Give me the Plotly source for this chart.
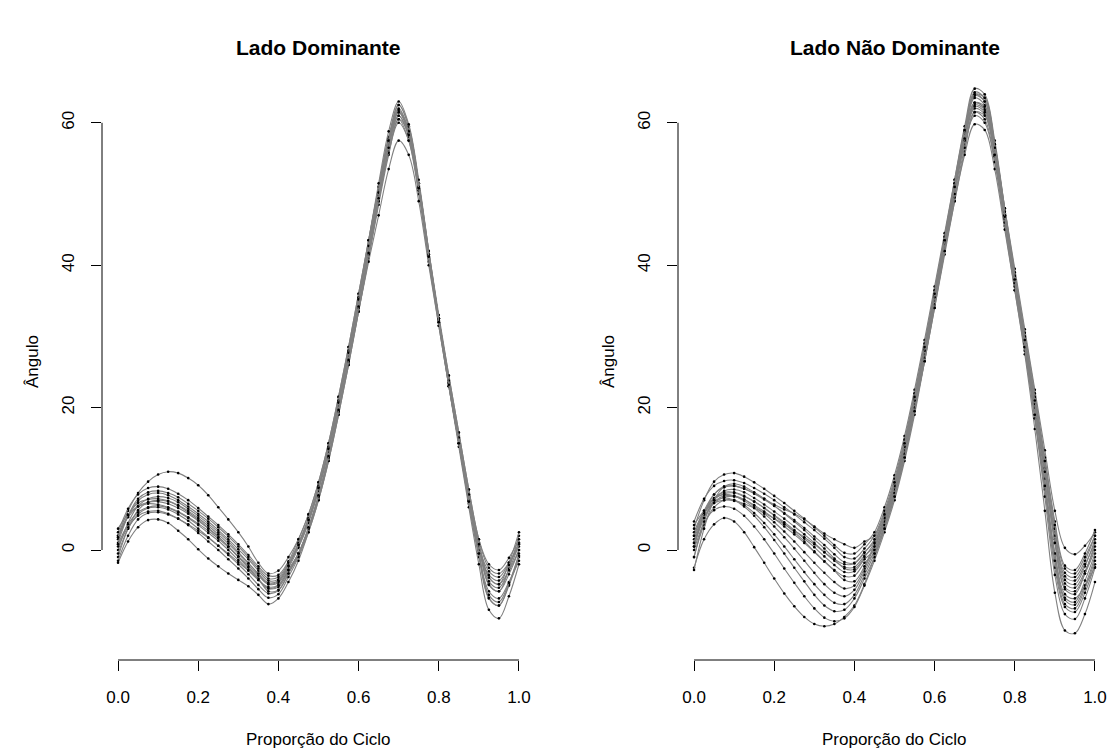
import plotly.graph_objects as go

# ---------------- data ----------------
X_PROP = [0.0, 0.025, 0.05, 0.075, 0.1, 0.125, 0.15, 0.175, 0.2, 0.225,
          0.25, 0.275, 0.3, 0.325, 0.35, 0.375, 0.4, 0.425, 0.45, 0.475,
          0.5, 0.525, 0.55, 0.575, 0.6, 0.625, 0.65, 0.675, 0.7, 0.725,
          0.75, 0.775, 0.8, 0.825, 0.85, 0.875, 0.9, 0.925, 0.95, 0.975, 1.0]

X_TICKS = [0.0, 0.2, 0.4, 0.6, 0.8, 1.0]
X_TICK_LABELS = ["0.0", "0.2", "0.4", "0.6", "0.8", "1.0"]
Y_TICKS = [0, 20, 40, 60]
Y_TICK_LABELS = ["0", "20", "40", "60"]

TITLES = ["Lado Dominante", "Lado Não Dominante"]
X_LABEL = "Proporção do Ciclo"
Y_LABEL = "Ângulo"

# Lado Dominante curves
dom_01 = [2.0, 5.5, 8.0, 9.6, 10.6, 11.0, 10.8, 10.1, 9.1, 7.7, 6.0, 4.3, 2.5, 0.5, -1.8, -3.3, -2.9, -1.0,
          1.5, 5.0, 9.5, 15.0, 21.5, 28.5, 36.0, 43.5, 51.0, 57.8, 61.5, 58.5, 51.0, 41.5, 32.5, 24.0, 16.0, 8.0, 1.0, -3.8, -4.8, -2.9, 0.0]
dom_02 = [-1.8, 1.2, 3.2, 4.2, 4.3, 3.8, 2.7, 1.5, 0.1, -1.2, -2.3, -3.3, -4.2, -5.1, -6.3, -7.6, -6.8, -4.5,
          -1.5, 2.5, 7.0, 12.5, 19.0, 26.0, 33.5, 41.0, 49.0, 56.5, 61.5, 59.0, 51.5, 42.0, 32.5, 23.5, 15.0, 6.5, -1.0, -6.8, -7.8, -5.0, -1.0]
dom_03 = [2.5, 5.8, 7.8, 8.7, 8.9, 8.6, 7.9, 7.0, 5.9, 4.7, 3.5, 2.2, 0.8, -0.7, -2.3, -3.6, -3.5, -1.6,
          1.5, 5.0, 9.5, 15.0, 21.5, 28.5, 36.0, 43.5, 51.0, 58.0, 62.5, 59.5, 51.5, 41.5, 32.0, 23.5, 15.5, 7.5, 0.5, -3.0, -3.8, -1.8, 1.0]
dom_04 = [1.5, 4.8, 6.9, 7.8, 8.0, 7.7, 7.0, 6.1, 5.1, 4.0, 2.8, 1.5, 0.1, -1.3, -2.9, -4.3, -4.1, -2.0,
          0.5, 4.0, 8.5, 14.0, 20.5, 27.5, 35.0, 42.5, 50.0, 57.0, 61.0, 58.0, 50.5, 41.0, 32.0, 23.5, 15.5, 7.5, 0.5, -4.8, -5.8, -2.6, 2.0]
dom_05 = [0.0, 3.8, 6.2, 7.2, 7.5, 7.3, 6.7, 5.8, 4.8, 3.7, 2.5, 1.2, -0.3, -1.8, -3.4, -4.8, -4.6, -2.5,
          0.3, 3.8, 8.3, 13.8, 20.3, 27.3, 35.0, 42.5, 50.5, 57.8, 62.0, 59.0, 51.5, 42.0, 33.0, 24.5, 16.5, 8.5, 1.5, -2.5, -3.3, -1.8, 0.5]
dom_06 = [-1.0, 3.0, 5.6, 6.7, 7.0, 6.8, 6.2, 5.3, 4.3, 3.1, 1.9, 0.5, -1.0, -2.5, -4.1, -5.4, -5.2, -3.0,
          -0.5, 3.0, 7.5, 13.0, 19.5, 26.5, 34.0, 41.5, 49.0, 56.0, 60.5, 57.5, 50.0, 40.5, 31.5, 23.0, 15.0, 7.0, -0.5, -5.8, -6.8, -4.5, -1.5]
dom_07 = [3.0, 5.0, 6.1, 6.5, 6.4, 6.0, 5.4, 4.6, 3.7, 2.7, 1.6, 0.4, -0.9, -2.2, -3.6, -4.8, -4.4, -2.3,
          0.8, 4.3, 8.8, 14.3, 20.8, 27.8, 35.3, 42.8, 50.3, 57.3, 61.5, 58.5, 51.0, 41.5, 32.5, 24.0, 16.0, 8.0, 1.0, -3.9, -4.8, -1.8, 2.5]
dom_08 = [-0.5, 3.0, 5.0, 5.9, 6.0, 5.7, 5.0, 4.1, 3.0, 1.8, 0.6, -0.7, -2.0, -3.4, -4.9, -6.1, -5.7, -3.3,
          -0.8, 2.8, 7.3, 12.8, 19.3, 26.3, 34.0, 41.8, 49.8, 57.5, 62.5, 59.5, 51.5, 41.5, 32.0, 23.0, 14.5, 6.0, -2.0, -8.4, -9.6, -6.5, -2.0]
dom_09 = [0.5, 3.2, 4.8, 5.4, 5.5, 5.1, 4.4, 3.5, 2.4, 1.2, 0.0, -1.3, -2.6, -4.0, -5.5, -6.7, -6.2, -3.8,
          -1.0, 2.5, 7.0, 12.5, 19.0, 26.0, 33.5, 41.0, 48.5, 55.5, 60.5, 58.5, 51.0, 41.5, 32.5, 24.0, 16.0, 7.8, 0.5, -4.9, -5.8, -3.4, 0.0]
dom_10 = [-1.5, 2.0, 4.3, 5.2, 5.3, 5.0, 4.4, 3.6, 2.7, 1.7, 0.6, -0.5, -1.7, -2.9, -4.2, -5.4, -5.0, -2.8,
          -0.5, 3.0, 7.5, 13.0, 19.5, 26.5, 33.5, 40.5, 47.0, 53.5, 57.5, 55.5, 49.0, 40.0, 31.5, 23.0, 15.0, 7.0, 0.0, -3.5, -4.3, -2.1, 1.0]
dom_11 = [1.0, 4.8, 7.2, 8.1, 8.3, 8.0, 7.4, 6.5, 5.5, 4.4, 3.2, 1.9, 0.5, -1.0, -2.6, -4.0, -3.8, -1.8,
          1.0, 4.5, 9.0, 14.5, 21.0, 28.0, 35.5, 43.5, 51.5, 58.8, 63.0, 59.8, 52.0, 42.0, 32.5, 23.5, 15.0, 6.8, -0.5, -6.7, -7.8, -4.8, -0.5]
dom_12 = [2.0, 4.6, 6.1, 6.7, 6.8, 6.5, 5.9, 5.1, 4.1, 3.0, 1.8, 0.5, -0.9, -2.4, -4.0, -5.8, -5.6, -3.3,
          -0.5, 3.0, 7.5, 13.0, 19.5, 26.5, 34.0, 41.5, 49.0, 55.8, 60.0, 57.5, 50.5, 41.5, 32.5, 24.5, 16.5, 8.5, 1.5, -2.0, -2.8, -1.1, 1.5]
dom_13 = [1.8, 4.9, 6.6, 7.1, 7.2, 6.9, 6.3, 5.5, 4.5, 3.4, 2.2, 0.9, -0.5, -1.9, -3.3, -4.6, -4.3, -2.2,
          0.7, 4.2, 8.7, 14.2, 20.7, 27.7, 35.2, 42.7, 50.2, 57.5, 61.8, 58.8, 51.0, 41.3, 32.3, 23.8, 15.8, 7.8, 0.8, -4.4, -5.3, -2.8, 0.8]
dom_14 = [0.8, 3.6, 5.3, 6.0, 6.2, 5.9, 5.3, 4.5, 3.5, 2.4, 1.3, 0.0, -1.4, -2.8, -4.2, -5.2, -4.9, -2.8,
          -0.5, 3.2, 7.7, 13.2, 19.7, 26.7, 34.2, 41.7, 49.4, 56.5, 61.0, 58.3, 50.8, 41.2, 32.0, 23.2, 15.0, 6.8, -0.5, -6.3, -7.3, -4.6, -0.8]

# Lado Não Dominante curves
nd_01 = [2.0, 5.5, 7.8, 8.8, 9.0, 8.6, 8.0, 7.2, 6.4, 5.7, 5.1, 4.3, 3.3, 2.3, 1.5, 0.8, 0.3, 1.2,
         2.0, 5.2, 9.5, 15.0, 21.5, 28.5, 36.0, 43.5, 51.0, 58.0, 62.8, 62.0, 56.5, 48.0, 39.5, 31.0, 22.5, 14.0, 5.5, 0.3, -0.6, 0.6, 2.5]
nd_02 = [-2.5, 1.5, 3.6, 4.5, 4.0, 2.5, 0.4, -1.8, -4.0, -6.1, -7.9, -9.4, -10.4, -10.7, -10.4, -9.4, -7.8, -4.8,
         -1.0, 3.0, 7.5, 13.0, 19.5, 26.5, 34.0, 41.5, 49.0, 56.0, 61.5, 60.5, 54.5, 45.5, 36.5, 27.5, 17.0, 5.5, -6.0, -11.3, -11.7, -9.0, -4.5]
nd_03 = [0.0, 3.8, 5.6, 6.1, 5.8, 4.8, 3.3, 1.5, -0.5, -2.6, -4.6, -6.5, -8.2, -9.5, -10.0, -9.6, -8.0, -5.0,
         -1.5, 2.5, 7.0, 12.5, 19.0, 26.5, 34.5, 42.5, 50.5, 58.5, 64.0, 63.5, 57.0, 47.5, 38.0, 29.0, 19.0, 9.0, -1.5, -7.0, -7.7, -5.0, -1.0]
nd_04 = [1.5, 5.0, 6.8, 7.3, 7.0, 6.1, 4.8, 3.2, 1.4, -0.5, -2.5, -4.4, -6.3, -7.8, -8.6, -8.4, -6.8, -4.0,
         -1.0, 3.0, 7.5, 13.0, 20.0, 27.0, 35.0, 42.5, 50.5, 57.8, 62.8, 62.0, 56.0, 47.0, 38.0, 29.5, 20.5, 11.0, 1.0, -5.5, -6.2, -3.3, 1.0]
nd_05 = [-1.0, 3.5, 6.0, 7.0, 7.0, 6.3, 5.2, 3.8, 2.2, 0.5, -1.3, -3.1, -4.8, -6.3, -7.4, -7.6, -6.3, -3.5,
         -0.5, 3.5, 8.0, 13.5, 20.0, 27.0, 34.5, 42.0, 49.0, 55.5, 59.8, 59.0, 53.5, 45.0, 36.5, 28.0, 18.5, 9.0, -0.5, -6.2, -6.8, -5.0, -2.4]
nd_06 = [2.5, 5.5, 7.2, 7.8, 7.6, 6.9, 5.9, 4.7, 3.3, 1.8, 0.2, -1.5, -3.2, -4.8, -6.0, -6.5, -5.6, -3.0,
         0.0, 4.0, 8.5, 14.0, 20.5, 28.0, 36.0, 44.0, 52.0, 59.5, 64.8, 64.0, 57.5, 48.0, 38.5, 29.5, 20.5, 11.5, 2.5, -3.2, -3.8, -1.5, 2.0]
nd_07 = [0.5, 4.5, 6.8, 7.6, 7.6, 7.1, 6.2, 5.1, 3.9, 2.6, 1.2, -0.3, -1.8, -3.2, -4.5, -5.4, -5.0, -2.6,
         0.5, 4.0, 8.5, 14.0, 20.5, 27.5, 35.0, 42.5, 50.5, 57.5, 62.5, 61.8, 56.0, 47.0, 38.0, 29.0, 19.0, 8.5, -2.5, -8.0, -8.7, -6.0, -2.0]
nd_08 = [1.0, 5.0, 7.3, 8.1, 8.1, 7.6, 6.8, 5.9, 4.8, 3.7, 2.5, 1.2, -0.2, -1.6, -2.9, -4.2, -4.4, -2.3,
         0.8, 4.3, 8.8, 14.3, 21.0, 28.0, 35.5, 43.0, 50.5, 57.0, 61.0, 60.0, 54.5, 46.0, 37.0, 28.5, 20.0, 11.0, 1.5, -4.7, -5.3, -3.0, 0.5]
nd_09 = [3.0, 7.0, 9.6, 10.6, 10.8, 10.3, 9.5, 8.6, 7.6, 6.6, 5.5, 4.4, 3.2, 2.0, 0.7, -0.4, -0.5, 0.8,
         2.5, 6.0, 10.5, 16.0, 22.5, 29.5, 37.0, 44.5, 52.0, 59.0, 63.8, 63.0, 57.0, 48.0, 39.0, 30.5, 22.0, 13.0, 4.0, -2.2, -2.8, -0.5, 2.8]
nd_10 = [4.0, 7.2, 9.0, 9.7, 9.8, 9.4, 8.7, 7.9, 7.0, 6.0, 5.0, 3.9, 2.8, 1.6, 0.3, -1.0, -1.2, 0.2,
         2.0, 5.5, 10.0, 15.5, 22.0, 29.0, 36.5, 44.0, 51.5, 58.5, 63.5, 62.5, 56.0, 47.0, 38.0, 29.0, 20.0, 10.0, -0.5, -6.7, -7.3, -4.3, -0.5]
nd_11 = [0.5, 5.0, 7.8, 8.9, 9.0, 8.6, 7.9, 7.1, 6.2, 5.2, 4.2, 3.1, 1.9, 0.7, -0.6, -1.7, -1.8, -0.3,
         1.2, 4.7, 9.2, 14.7, 21.2, 28.2, 35.7, 43.2, 50.7, 57.6, 62.0, 61.2, 55.3, 46.5, 37.5, 29.0, 20.5, 11.5, 2.0, -4.2, -4.8, -2.3, 1.5]
nd_12 = [-1.0, 4.0, 7.0, 8.3, 8.5, 8.1, 7.3, 6.4, 5.4, 4.4, 3.3, 2.2, 1.0, -0.3, -1.5, -2.4, -2.4, -0.8,
         0.5, 4.0, 8.5, 14.0, 20.5, 27.5, 35.0, 43.0, 51.0, 58.8, 64.3, 63.5, 57.0, 47.5, 38.0, 28.5, 18.5, 7.5, -3.5, -9.0, -9.7, -6.8, -2.5]
nd_13 = [2.0, 5.2, 7.2, 7.9, 8.0, 7.5, 6.8, 5.9, 4.9, 3.9, 2.8, 1.6, 0.4, -0.9, -2.1, -3.1, -3.0, -1.3,
         0.0, 3.5, 8.0, 13.5, 20.0, 27.0, 34.5, 42.0, 49.5, 56.5, 61.5, 61.0, 55.5, 47.0, 38.5, 30.0, 21.5, 12.5, 3.0, -3.7, -4.3, -2.0, 1.0]
nd_14 = [1.0, 4.5, 6.6, 7.4, 7.5, 7.1, 6.3, 5.4, 4.4, 3.3, 2.2, 1.0, -0.3, -1.6, -2.8, -3.7, -3.6, -1.8,
         -0.5, 3.0, 7.5, 13.0, 19.5, 26.5, 34.0, 42.0, 50.0, 57.5, 62.8, 62.3, 56.5, 47.5, 38.5, 29.5, 20.5, 11.0, 1.0, -5.2, -5.8, -3.3, 0.0]
nd_15 = [-2.8, 3.0, 7.0, 8.9, 9.3, 8.9, 8.1, 7.2, 6.2, 5.1, 4.0, 2.8, 1.5, 0.2, -1.2, -2.6, -2.7, -1.0,
         1.0, 4.5, 9.0, 14.5, 21.0, 28.0, 35.5, 43.5, 51.5, 59.0, 64.0, 63.0, 56.5, 47.0, 37.5, 28.5, 19.0, 9.0, -1.5, -7.6, -8.2, -5.4, -1.5]
nd_16 = [3.5, 5.5, 6.6, 7.0, 6.9, 6.5, 5.9, 5.2, 4.4, 3.6, 2.7, 1.8, 0.8, -0.3, -1.3, -2.0, -1.9, -0.4,
         1.5, 5.0, 9.5, 15.0, 21.5, 28.5, 36.0, 43.5, 51.0, 57.8, 62.3, 61.5, 55.5, 46.8, 38.0, 29.5, 21.0, 12.5, 3.5, -2.6, -3.3, -1.0, 2.0]

DOMINANTE = [dom_01, dom_02, dom_03, dom_04, dom_05, dom_06, dom_07,
             dom_08, dom_09, dom_10, dom_11, dom_12, dom_13, dom_14]
NAO_DOMINANTE = [nd_01, nd_02, nd_03, nd_04, nd_05, nd_06, nd_07, nd_08,
                 nd_09, nd_10, nd_11, nd_12, nd_13, nd_14, nd_15, nd_16]

# ---------------- figure ----------------
# the page body has an 8px margin, so the figure is 8px smaller and every
# pixel position below is given relative to the figure (page px - 8)
OFF = 8
W, H = 1116 - OFF, 756 - OFF
FONT = "Liberation Sans, Arial, Helvetica, sans-serif"
LINE_COLOR = "#808080"

fig = go.Figure()

for curves, xa, ya in [(DOMINANTE, "x", "y"), (NAO_DOMINANTE, "x2", "y2")]:
    for c in curves:
        fig.add_trace(go.Scatter(
            x=X_PROP, y=c, xaxis=xa, yaxis=ya, mode="lines+markers",
            line=dict(color=LINE_COLOR, width=1.1, shape="spline", smoothing=1.0),
            marker=dict(color="black", size=2.6),
            showlegend=False, hoverinfo="skip"))

# pixel geometry (page coordinates) of the two plot regions
px_left = [(102 - OFF, 535 - OFF), (678 - OFF, 1111 - OFF)]
py_top, py_bottom = 64 - OFF, 660 - OFF
ydom = [(H - py_bottom) / H, (H - py_top) / H]
XR = [-0.04, 1.04]
YR = [-15.45, 68.26]

tickfont = dict(family=FONT, size=17, color="black")
common_x = dict(range=XR, tickmode="array", tickvals=X_TICKS, ticktext=X_TICK_LABELS,
                ticks="outside", ticklen=10, tickwidth=1, tickcolor="black",
                showline=False, showgrid=False, zeroline=False, tickfont=tickfont,
                ticklabelstandoff=12, fixedrange=True)
common_y = dict(range=YR, domain=ydom, tickmode="array", tickvals=Y_TICKS, ticktext=Y_TICK_LABELS,
                ticks="outside", ticklen=10, tickwidth=1, tickcolor="black",
                showline=False, showgrid=False, zeroline=False, tickfont=tickfont,
                tickangle=-90, ticklabelstandoff=10, fixedrange=True)

fig.update_layout(
    width=W, height=H, margin=dict(l=0, r=0, t=0, b=0),
    paper_bgcolor="white", plot_bgcolor="white",
    xaxis=dict(domain=[px_left[0][0] / W, px_left[0][1] / W], anchor="y", **common_x),
    yaxis=dict(anchor="x", **common_y),
    xaxis2=dict(domain=[px_left[1][0] / W, px_left[1][1] / W], anchor="y2", **common_x),
    yaxis2=dict(anchor="x2", **common_y),
)

shapes = []
annotations = []
for i, (xa, ya) in enumerate([("x", "y"), ("x2", "y2")]):
    # R-style axis lines spanning only the tick range
    shapes.append(dict(type="line", xref=xa, yref=ya + " domain",
                       x0=X_TICKS[0], x1=X_TICKS[-1], y0=0, y1=0,
                       line=dict(color="black", width=1)))
    shapes.append(dict(type="line", xref=xa + " domain", yref=ya,
                       x0=0, x1=0, y0=Y_TICKS[0], y1=Y_TICKS[-1],
                       line=dict(color="black", width=1)))
    cx = (px_left[i][0] + px_left[i][1]) / 2 / W
    annotations.append(dict(text="<b>" + TITLES[i] + "</b>", xref="paper", yref="paper",
                            x=cx, y=1 - (48 - OFF) / H, xanchor="center", yanchor="middle",
                            showarrow=False, font=dict(family=FONT, size=21, color="black")))
    annotations.append(dict(text=X_LABEL, xref="paper", yref="paper",
                            x=cx, y=1 - (739 - OFF) / H, xanchor="center", yanchor="middle",
                            showarrow=False, font=dict(family=FONT, size=17, color="black")))
    annotations.append(dict(text=Y_LABEL, xref="paper", yref="paper",
                            x=(px_left[i][0] - 70) / W, y=1 - (362 - OFF) / H,
                            xanchor="center", yanchor="middle", textangle=-90,
                            showarrow=False, font=dict(family=FONT, size=17, color="black")))

fig.update_layout(shapes=shapes, annotations=annotations)

fig.write_html("out.html", config={"displayModeBar": False})
